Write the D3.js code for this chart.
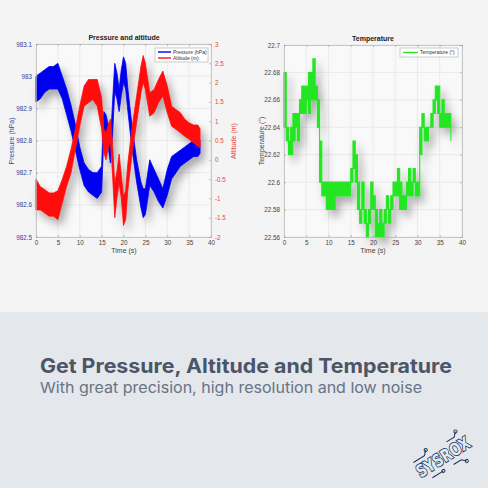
<!DOCTYPE html>
<html>
<head>
<meta charset="utf-8">
<script src="https://cdn.jsdelivr.net/npm/d3@7"></script>
<style>
  html, body { margin: 0; padding: 0; background: #f4f4f4; }
  svg { display: block; font-family: 'Liberation Sans', Arial, sans-serif; }
</style>
</head>
<body>
<div id="chart"></div>
<script>
// pressure / altitude: noise envelope (low, high)
const pTime = [0, 1, 2, 3, 4, 5, 6, 7, 8, 9, 10, 11, 12, 13, 14, 15, 15.5, 16, 16.5, 17, 17.5, 18, 18.5, 19, 19.5, 20, 20.5, 21, 22, 23, 24, 24.5, 25, 26, 27, 28, 29, 30, 31, 32, 33, 34, 35, 36, 37, 37.5];
const pressureLo = [982.92, 982.93, 982.95, 982.96, 982.96, 982.96, 982.93, 982.88, 982.83, 982.77, 982.71, 982.66, 982.64, 982.63, 982.62, 982.64, 982.81, 982.80, 982.78, 982.73, 982.82, 982.95, 982.93, 982.89, 982.94, 982.98, 982.96, 982.89, 982.77, 982.67, 982.59, 982.56, 982.57, 982.66, 982.64, 982.61, 982.59, 982.63, 982.68, 982.70, 982.72, 982.73, 982.74, 982.75, 982.75, 982.76];
const pressureHi = [983.00, 983.01, 983.02, 983.03, 983.03, 983.04, 983.00, 982.96, 982.91, 982.85, 982.78, 982.73, 982.71, 982.70, 982.70, 982.72, 982.89, 982.88, 982.85, 982.79, 982.92, 983.04, 983.01, 982.96, 983.02, 983.06, 983.04, 982.96, 982.84, 982.74, 982.67, 982.65, 982.65, 982.74, 982.71, 982.68, 982.65, 982.71, 982.75, 982.76, 982.77, 982.78, 982.79, 982.80, 982.81, 982.80];
const altitudeLo = [-1.30, -1.30, -1.38, -1.46, -1.46, -1.55, -1.12, -0.69, -0.34, 0.27, 0.87, 1.39, 1.48, 1.56, 1.39, 0.80, 0.20, 0.00, 0.30, 0.50, -0.40, -1.50, -1.00, -0.60, -1.00, -1.70, -1.55, -0.77, 0.18, 0.96, 1.74, 2.00, 1.82, 1.13, 1.22, 1.48, 1.65, 1.22, 0.87, 0.79, 0.70, 0.61, 0.53, 0.44, 0.35, 0.30];
const altitudeHi = [-0.50, -0.70, -0.77, -0.86, -0.86, -0.80, -0.51, -0.17, 0.27, 0.79, 1.39, 1.91, 2.08, 2.08, 2.08, 1.60, 0.80, 0.70, 0.90, 1.05, 0.40, -0.60, -0.30, 0.15, -0.40, -0.95, -0.80, -0.08, 0.87, 1.65, 2.43, 2.70, 2.50, 1.74, 1.82, 2.08, 2.30, 1.91, 1.39, 1.30, 1.22, 1.05, 0.96, 0.90, 0.90, 0.80];

// temperature: quantised steps, range covered in each half second
const tTime = [0, 0.5, 1, 1.5, 2, 2.5, 3, 3.5, 4, 4.5, 5, 5.5, 6, 6.5, 7, 7.5, 8, 8.5, 9, 9.5, 10, 10.5, 11, 11.5, 12, 12.5, 13, 13.5, 14, 14.5, 15, 15.5, 16, 16.5, 17, 17.5, 18, 18.5, 19, 19.5, 20, 20.5, 21, 21.5, 22, 22.5, 23, 23.5, 24, 24.5, 25, 25.5, 26, 26.5, 27, 27.5, 28, 28.5, 29, 29.5, 30, 30.5, 31, 31.5, 32, 32.5, 33, 33.5, 34, 34.5, 35, 35.5, 36, 36.5, 37, 37.5];
const tempLo = [22.64, 22.63, 22.62, 22.62, 22.63, 22.64, 22.63, 22.65, 22.65, 22.65, 22.66, 22.65, 22.66, 22.66, 22.66, 22.64, 22.60, 22.59, 22.59, 22.58, 22.58, 22.58, 22.58, 22.59, 22.59, 22.59, 22.59, 22.59, 22.59, 22.59, 22.60, 22.61, 22.60, 22.58, 22.57, 22.58, 22.57, 22.56, 22.57, 22.58, 22.58, 22.56, 22.56, 22.56, 22.56, 22.57, 22.58, 22.57, 22.58, 22.59, 22.59, 22.59, 22.58, 22.58, 22.58, 22.59, 22.59, 22.59, 22.60, 22.59, 22.59, 22.62, 22.64, 22.63, 22.63, 22.64, 22.64, 22.65, 22.66, 22.65, 22.64, 22.64, 22.64, 22.64, 22.64, 22.63];
const tempHi = [22.68, 22.64, 22.63, 22.64, 22.65, 22.65, 22.65, 22.66, 22.67, 22.67, 22.67, 22.68, 22.68, 22.69, 22.67, 22.66, 22.63, 22.60, 22.60, 22.60, 22.60, 22.60, 22.60, 22.60, 22.60, 22.60, 22.60, 22.60, 22.60, 22.60, 22.61, 22.63, 22.62, 22.60, 22.58, 22.60, 22.58, 22.57, 22.58, 22.60, 22.59, 22.58, 22.57, 22.58, 22.57, 22.58, 22.59, 22.58, 22.59, 22.60, 22.60, 22.61, 22.60, 22.59, 22.59, 22.60, 22.61, 22.60, 22.61, 22.60, 22.60, 22.64, 22.65, 22.64, 22.64, 22.64, 22.65, 22.66, 22.67, 22.67, 22.65, 22.66, 22.65, 22.65, 22.65, 22.63];

const timeTicks = [0, 5, 10, 15, 20, 25, 30, 35, 40];
const pressureTicks = [982.5, 982.6, 982.7, 982.8, 982.9, 983, 983.1];
const altitudeTicks = [-2, -1.5, -1, -0.5, 0, 0.5, 1, 1.5, 2, 2.5, 3];
const tempTicks = [22.56, 22.58, 22.6, 22.62, 22.64, 22.66, 22.68, 22.7];

const W = 488, H = 488;
const BLUE = '#0000f0', RED = '#ff1010', GREEN = '#22e622';
const fmt = d => String(+d.toFixed(3));

let svg = d3.select('#chart')
    .append('svg')
        .attr('width', W)
        .attr('height', H);

let defs = svg.append('defs');
defs.append('filter')
        .attr('id', 'shadow')
        .attr('x', '-20%').attr('y', '-20%')
        .attr('width', '140%').attr('height', '140%')
    .append('feDropShadow')
        .attr('dx', 4)
        .attr('dy', 6)
        .attr('stdDeviation', 4)
        .attr('flood-color', '#000')
        .attr('flood-opacity', 0.32);

// backgrounds
svg.append('rect')
    .attr('width', W).attr('height', 312)
    .attr('fill', '#f4f4f4');
svg.append('rect')
    .attr('y', 312).attr('width', W).attr('height', H - 312)
    .attr('fill', '#e4e7eb');

function frame (g, x, y) {
    let [x0, x1] = x.range(), [y1, y0] = y.range();
    g.append('rect')
        .attr('x', x0).attr('y', y0)
        .attr('width', x1 - x0).attr('height', y1 - y0)
        .attr('fill', '#f9f9f9');
    g.append('g')
        .selectAll('line')
        .data(timeTicks)
        .enter()
        .append('line')
            .attr('x1', d => x(d)).attr('x2', d => x(d))
            .attr('y1', y0).attr('y2', y1)
            .attr('stroke', '#e0e0e0')
            .attr('stroke-width', 0.6);
}

function hGrid (g, x, y, ticks) {
    let [x0, x1] = x.range();
    g.append('g')
        .selectAll('line')
        .data(ticks)
        .enter()
        .append('line')
            .attr('x1', x0).attr('x2', x1)
            .attr('y1', d => y(d)).attr('y2', d => y(d))
            .attr('stroke', '#e0e0e0')
            .attr('stroke-width', 0.6);
}

function styleAxis (g, color) {
    g.select('.domain').attr('stroke', '#b5b5b5').attr('stroke-width', 0.7);
    g.selectAll('.tick line').attr('stroke', '#999').attr('stroke-width', 0.6);
    g.selectAll('.tick text')
        .attr('fill', color)
        .style('font-size', '6.3px');
}

// ---------- left: pressure and altitude ----------
let x1s = d3.scaleLinear().domain([0, 40]).range([36, 211]);
let pY = d3.scaleLinear().domain([982.5, 983.1]).range([237, 44]);
let aY = d3.scaleLinear().domain([-2, 3]).range([237, 44]);

let leftG = svg.append('g').attr('class', 'pa-group');
frame(leftG, x1s, pY);
hGrid(leftG, x1s, pY, pressureTicks);

let seriesG = leftG.append('g').attr('filter', 'url(#shadow)');

seriesG.append('path')
    .attr('d', d3.area()
        .x((d, i) => x1s(pTime[i]))
        .y0((d, i) => pY(pressureLo[i]))
        .y1((d, i) => pY(pressureHi[i]))(pTime))
    .attr('fill', BLUE)
    .attr('stroke', BLUE)
    .attr('stroke-width', 0.8);

seriesG.append('path')
    .attr('d', d3.area()
        .x((d, i) => x1s(pTime[i]))
        .y0((d, i) => aY(altitudeLo[i]))
        .y1((d, i) => aY(altitudeHi[i]))(pTime))
    .attr('fill', RED)
    .attr('stroke', RED)
    .attr('stroke-width', 0.8);

leftG.append('g')
    .attr('transform', 'translate(0,237)')
    .call(d3.axisBottom(x1s).tickValues(timeTicks).tickSize(-2).tickPadding(4).tickFormat(fmt))
    .call(g => styleAxis(g, '#444'));
leftG.append('g')
    .attr('transform', 'translate(0,44)')
    .call(d3.axisTop(x1s).tickValues(timeTicks).tickSize(-2).tickFormat(''))
    .call(g => styleAxis(g, '#444'));
leftG.append('g')
    .attr('transform', 'translate(36,0)')
    .call(d3.axisLeft(pY).tickValues(pressureTicks).tickSize(-2).tickPadding(4).tickFormat(fmt))
    .call(g => styleAxis(g, '#3c3ca0'));
leftG.append('g')
    .attr('transform', 'translate(211,0)')
    .call(d3.axisRight(aY).tickValues(altitudeTicks).tickSize(-2).tickPadding(4).tickFormat(fmt))
    .call(g => styleAxis(g, '#e84545'));

leftG.append('text')
    .text('Pressure and altitude')
    .attr('x', 124).attr('y', 40)
    .attr('text-anchor', 'middle')
    .style('font-size', '7px')
    .style('font-weight', 'bold')
    .attr('fill', '#222');
leftG.append('text')
    .text('Time (s)')
    .attr('x', 124).attr('y', 253)
    .attr('text-anchor', 'middle')
    .style('font-size', '7px')
    .attr('fill', '#444');
leftG.append('text')
    .text('Pressure (hPa)')
    .attr('transform', 'translate(14,141) rotate(-90)')
    .attr('text-anchor', 'middle')
    .style('font-size', '7px')
    .attr('fill', '#3c3ca0');
leftG.append('text')
    .text('Altitude (m)')
    .attr('transform', 'translate(236,141) rotate(-90)')
    .attr('text-anchor', 'middle')
    .style('font-size', '7px')
    .attr('fill', '#e84545');

// legend
let legL = leftG.append('g').attr('transform', 'translate(155,48)');
legL.append('rect')
    .attr('width', 53).attr('height', 14)
    .attr('fill', '#fff')
    .attr('stroke', '#9a9a9a')
    .attr('stroke-width', 0.5);
legL.selectAll('g.item')
    .data([['Pressure (hPa)', BLUE], ['Altitude (m)', RED]])
    .enter()
    .append('g')
        .attr('class', 'item')
        .attr('transform', (d, i) => 'translate(0,' + (4 + i * 6) + ')')
        .each(function (d) {
            let g = d3.select(this);
            g.append('line')
                .attr('x1', 3).attr('x2', 16)
                .attr('stroke', d[1])
                .attr('stroke-width', 1.4);
            g.append('text')
                .text(d[0])
                .attr('x', 18).attr('y', 1.8)
                .style('font-size', '5px')
                .attr('fill', '#333');
        });

// ---------- right: temperature ----------
let x2s = d3.scaleLinear().domain([0, 40]).range([284, 462]);
let tY = d3.scaleLinear().domain([22.56, 22.7]).range([237, 45]);

let rightG = svg.append('g').attr('class', 'temp-group');
frame(rightG, x2s, tY);
hGrid(rightG, x2s, tY, tempTicks);

rightG.append('g')
    .attr('filter', 'url(#shadow)')
    .append('path')
        .attr('d', d3.area()
            .curve(d3.curveStepAfter)
            .x((d, i) => x2s(tTime[i]))
            .y0((d, i) => tY(tempLo[i]))
            .y1((d, i) => tY(tempHi[i]))(tTime))
        .attr('fill', GREEN)
        .attr('stroke', GREEN)
        .attr('stroke-width', 1.1)
        .attr('stroke-linejoin', 'miter');

rightG.append('g')
    .attr('transform', 'translate(0,237)')
    .call(d3.axisBottom(x2s).tickValues(timeTicks).tickSize(-2).tickPadding(4).tickFormat(fmt))
    .call(g => styleAxis(g, '#444'));
rightG.append('g')
    .attr('transform', 'translate(0,45)')
    .call(d3.axisTop(x2s).tickValues(timeTicks).tickSize(-2).tickFormat(''))
    .call(g => styleAxis(g, '#444'));
rightG.append('g')
    .attr('transform', 'translate(284,0)')
    .call(d3.axisLeft(tY).tickValues(tempTicks).tickSize(-2).tickPadding(4).tickFormat(fmt))
    .call(g => styleAxis(g, '#444'));
rightG.append('g')
    .attr('transform', 'translate(462,0)')
    .call(d3.axisRight(tY).tickValues(tempTicks).tickSize(-2).tickFormat(''))
    .call(g => styleAxis(g, '#444'));

rightG.append('text')
    .text('Temperature')
    .attr('x', 373).attr('y', 41)
    .attr('text-anchor', 'middle')
    .style('font-size', '7px')
    .style('font-weight', 'bold')
    .attr('fill', '#222');
rightG.append('text')
    .text('Time (s)')
    .attr('x', 373).attr('y', 253)
    .attr('text-anchor', 'middle')
    .style('font-size', '7px')
    .attr('fill', '#444');
rightG.append('text')
    .text('Temperature (°)')
    .attr('transform', 'translate(264,141) rotate(-90)')
    .attr('text-anchor', 'middle')
    .style('font-size', '7px')
    .attr('fill', '#444');

let legR = rightG.append('g').attr('transform', 'translate(400,48)');
legR.append('rect')
    .attr('width', 58).attr('height', 9)
    .attr('fill', '#fff')
    .attr('stroke', '#9a9a9a')
    .attr('stroke-width', 0.5);
legR.append('line')
    .attr('x1', 3).attr('x2', 18)
    .attr('y1', 4.5).attr('y2', 4.5)
    .attr('stroke', GREEN)
    .attr('stroke-width', 1.4);
legR.append('text')
    .text('Temperature (°)')
    .attr('x', 20).attr('y', 6.3)
    .style('font-size', '5px')
    .attr('fill', '#333');

// ---------- caption ----------
svg.append('text')
    .text('Get Pressure, Altitude and Temperature')
    .attr('x', 40).attr('y', 373)
    .attr('textLength', 412)
    .attr('lengthAdjust', 'spacingAndGlyphs')
    .style('font-family', 'Inter, sans-serif')
    .style('font-size', '20px')
    .style('font-weight', 'bold')
    .attr('fill', '#4b5567');
svg.append('text')
    .text('With great precision, high resolution and low noise')
    .attr('x', 40).attr('y', 393)
    .attr('textLength', 382)
    .attr('lengthAdjust', 'spacingAndGlyphs')
    .style('font-family', 'Inter, sans-serif')
    .style('font-size', '15px')
    .attr('fill', '#687386');

// logo
let logo = svg.append('g').attr('transform', 'translate(443,457) rotate(-32)');
logo.append('text')
    .text('SYSROX')
    .attr('text-anchor', 'middle')
    .attr('y', 6)
    .attr('textLength', 60)
    .attr('lengthAdjust', 'spacingAndGlyphs')
    .style('font-family', 'DejaVu Sans, sans-serif')
    .style('font-size', '17px')
    .style('font-weight', 'bold')
    .attr('fill', '#dfeaf5')
    .attr('stroke', '#1b2f55')
    .attr('stroke-width', 1.7)
    .attr('paint-order', 'stroke');
logo.append('path')
    .attr('d', 'M-28,-11 L-15,-11 L-11,-15 M11,-11 L20,-11 L24,-15 M-20,12 L-7,12 M5,12 L14,12 L18,16')
    .attr('fill', 'none')
    .attr('stroke', '#1b2f55')
    .attr('stroke-width', 1);
logo.selectAll('circle')
    .data([[-11, -15], [24, -15], [-7, 12], [18, 16]])
    .enter()
    .append('circle')
        .attr('cx', d => d[0]).attr('cy', d => d[1])
        .attr('r', 1.6)
        .attr('fill', 'none')
        .attr('stroke', '#1b2f55')
        .attr('stroke-width', 0.9);
</script>
</body>
</html>
